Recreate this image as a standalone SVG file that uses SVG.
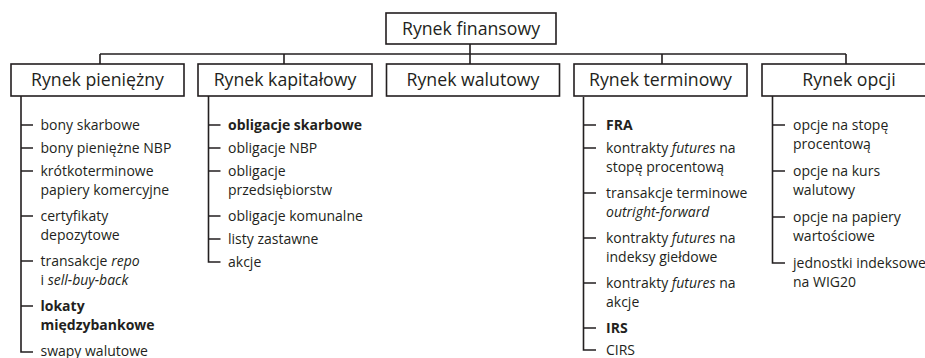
<svg xmlns="http://www.w3.org/2000/svg" width="925" height="358" viewBox="0 0 925 358">
<style>
  .box{fill:#fff;stroke:#231f20;stroke-width:1.6}
  .ln{fill:none;stroke:#231f20;stroke-width:1.6}
  .t1{font-family:"Open Sans","Noto Sans","DejaVu Sans",sans-serif;font-size:17.7px;fill:#231f20;text-anchor:middle}
  .li{font-family:"Open Sans","Noto Sans","DejaVu Sans",sans-serif;font-size:14px;fill:#231f20}
  .b{font-weight:bold}
  .i{font-style:italic}
</style>
<rect width="925" height="358" fill="#fff"/>
<g id="connectors">
  <path class="ln" d="M470 44V54M100 54H846M100 54V64M284 54V64M470 54V64M662 54V64M846 54V64"/>
  <path class="ln" d="M21 96V352H33M21 125H33M21 148H33M21 171H33M21 216H33M21 261H33M21 306H33"/>
  <path class="ln" d="M208.5 96V262H220.5M208.5 125H220.5M208.5 148H220.5M208.5 171H220.5M208.5 216H220.5M208.5 239H220.5"/>
  <path class="ln" d="M583.5 97V350H596M583.5 125H596M583.5 148H596M583.5 193H596M583.5 238H596M583.5 283H596M583.5 328H596"/>
  <path class="ln" d="M772.5 96V263H785M772.5 125H785M772.5 171H785M772.5 217H785"/>
</g>
<g id="n-root"><rect class="box" x="386" y="13" width="170" height="31"/><text class="t1" x="471" y="34.5">Rynek finansowy</text></g>
<g id="n-pieniezny"><rect class="box" x="11" y="64" width="173" height="32"/><text class="t1" x="97.5" y="86">Rynek pieniężny</text></g>
<g id="n-kapitalowy"><rect class="box" x="198" y="64" width="174" height="32"/><text class="t1" x="285" y="86">Rynek kapitałowy</text></g>
<g id="n-walutowy"><rect class="box" x="386.5" y="64" width="173" height="32"/><text class="t1" x="473" y="86">Rynek walutowy</text></g>
<g id="n-terminowy"><rect class="box" x="574" y="64" width="173" height="32"/><text class="t1" x="660.5" y="86">Rynek terminowy</text></g>
<g id="n-opcji"><rect class="box" x="762" y="64" width="174" height="32"/><text class="t1" x="849" y="86">Rynek opcji</text></g>
<g id="list-pieniezny">
  <text class="li" x="40.5" y="130">bony skarbowe</text>
  <text class="li" x="40.5" y="153">bony pieniężne NBP</text>
  <text class="li" x="40.5" y="176">krótkoterminowe</text>
  <text class="li" x="40.5" y="194.5">papiery komercyjne</text>
  <text class="li" x="40.5" y="221">certyfikaty</text>
  <text class="li" x="40.5" y="239.5">depozytowe</text>
  <text class="li" x="40.5" y="266">transakcje <tspan class="i">repo</tspan></text>
  <text class="li" x="40.5" y="284.5">i <tspan class="i">sell-buy-back</tspan></text>
  <text class="li b" x="40.5" y="311">lokaty</text>
  <text class="li b" x="40.5" y="329.5">międzybankowe</text>
  <text class="li" x="40.5" y="356">swapy walutowe</text>
</g>
<g id="list-kapitalowy">
  <text class="li b" x="228" y="130">obligacje skarbowe</text>
  <text class="li" x="228" y="153">obligacje NBP</text>
  <text class="li" x="228" y="176">obligacje</text>
  <text class="li" x="228" y="194.5">przedsiębiorstw</text>
  <text class="li" x="228" y="221">obligacje komunalne</text>
  <text class="li" x="228" y="244">listy zastawne</text>
  <text class="li" x="228" y="267">akcje</text>
</g>
<g id="list-terminowy">
  <text class="li b" x="606" y="130">FRA</text>
  <text class="li" x="606" y="153">kontrakty <tspan class="i">futures</tspan> na</text>
  <text class="li" x="606" y="171.5">stopę procentową</text>
  <text class="li" x="606" y="198">transakcje terminowe</text>
  <text class="li i" x="606" y="216.5">outright-forward</text>
  <text class="li" x="606" y="243">kontrakty <tspan class="i">futures</tspan> na</text>
  <text class="li" x="606" y="261.5">indeksy giełdowe</text>
  <text class="li" x="606" y="288">kontrakty <tspan class="i">futures</tspan> na</text>
  <text class="li" x="606" y="306.5">akcje</text>
  <text class="li b" x="606" y="333">IRS</text>
  <text class="li" x="606" y="355">CIRS</text>
</g>
<g id="list-opcji">
  <text class="li" x="793" y="130">opcje na stopę</text>
  <text class="li" x="793" y="148.5">procentową</text>
  <text class="li" x="793" y="176">opcje na kurs</text>
  <text class="li" x="793" y="194.5">walutowy</text>
  <text class="li" x="793" y="222">opcje na papiery</text>
  <text class="li" x="793" y="240.5">wartościowe</text>
  <text class="li" x="793" y="268">jednostki indeksowe</text>
  <text class="li" x="793" y="286.5">na WIG20</text>
</g>
</svg>
